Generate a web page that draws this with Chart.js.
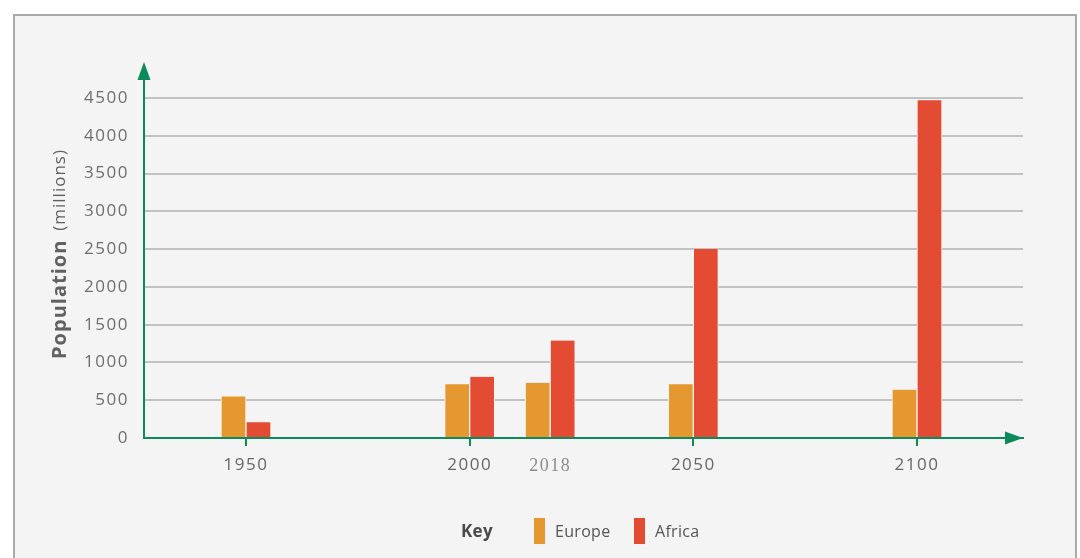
<!DOCTYPE html>
<html>
<head>
<meta charset="utf-8">
<title>Population, Europe and Africa</title>
<script src="https://cdn.jsdelivr.net/npm/chart.js@4"></script>
<style>
  html, body { margin: 0; padding: 0; background: #ffffff; overflow: hidden; }
  #panel {
    position: absolute; left: 13px; top: 14px; width: 1064px; height: 560px;
    background: #f4f4f4; border: 2px solid #a9a9a9; box-sizing: border-box;
  }
  #wrap { position: absolute; left: 0; top: 0; width: 1080px; height: 558px; }
</style>
</head>
<body>
<div id="panel"></div>
<div id="wrap"><canvas id="popChart" width="1080" height="558"></canvas></div>
<script>
// population in millions
const years = [1950, 2000, 2018, 2050, 2100];
const europe = [550, 710, 730, 710, 640];
const africa = [210, 810, 1290, 2500, 4470];
const yTicks = [0, 500, 1000, 1500, 2000, 2500, 3000, 3500, 4000, 4500];
const xTicks = [1950, 2000, 2018, 2050, 2100];
const markedYears = [1950, 2000, 2050, 2100];
const seriesNames = ['Europe', 'Africa'];

const GREEN = '#0b8a5b';
const PANEL = '#f4f4f4';
const colours = ['#e69830', '#e34b33'];

function points(vals) {
    return years.map((yr, i) => ({ x: yr, y: vals[i] }));
}

// axis arrows, year tick marks, rotated axis title and the key
const extras = {
    id: 'extras',
    beforeDraw(chart) {
        chart.ctx.letterSpacing = '1.5px';
    },
    afterDraw(chart) {
        const ctx = chart.ctx;
        const a = chart.chartArea;
        const xs = chart.scales.x;
        ctx.save();
        ctx.fillStyle = GREEN;
        // up arrow
        ctx.beginPath();
        ctx.moveTo(a.left, 62);
        ctx.lineTo(a.left - 6.5, 80);
        ctx.lineTo(a.left + 6.5, 80);
        ctx.closePath();
        ctx.fill();
        // right arrow
        ctx.beginPath();
        ctx.moveTo(a.right, a.bottom);
        ctx.lineTo(a.right - 18, a.bottom - 6.5);
        ctx.lineTo(a.right - 18, a.bottom + 6.5);
        ctx.closePath();
        ctx.fill();
        // small marks under the axis
        markedYears.forEach(yr => {
            const px = Math.round(xs.getPixelForValue(yr));
            ctx.fillRect(px - 1, a.bottom, 2, 8);
        });

        // y title: bold word then regular unit
        ctx.translate(60, 254);
        ctx.rotate(-Math.PI / 2);
        ctx.textBaseline = 'middle';
        ctx.fillStyle = '#616161';
        ctx.letterSpacing = '1px';
        const boldFont = 'bold 20px "Open Sans"';
        const regFont = '17px "Open Sans"';
        ctx.font = boldFont;
        const w1 = ctx.measureText('Population').width;
        ctx.font = regFont;
        const w2 = ctx.measureText('(millions)').width;
        const gap = 9;
        let x0 = -(w1 + gap + w2) / 2;
        ctx.textAlign = 'left';
        ctx.font = boldFont;
        ctx.fillText('Population', x0, 0);
        ctx.font = regFont;
        ctx.fillText('(millions)', x0 + w1 + gap, 0);
        ctx.restore();

        // key
        ctx.save();
        ctx.textBaseline = 'middle';
        ctx.textAlign = 'left';
        ctx.fillStyle = '#4a4a4a';
        ctx.font = 'bold 17px "Open Sans"';
        ctx.letterSpacing = '0.3px';
        ctx.fillText('Key', 461, 532);
        const boxX = [534, 634];
        chart.data.datasets.forEach((ds, i) => {
            ctx.fillStyle = ds.backgroundColor;
            ctx.fillRect(boxX[i], 518, 11, 26);
            ctx.fillStyle = '#555555';
            ctx.font = '16px "Open Sans"';
            ctx.fillText(ds.label, boxX[i] + 21, 532);
        });
        ctx.restore();
    }
};

new Chart(document.getElementById('popChart'), {
    type: 'bar',
    data: {
        datasets: seriesNames.map((name, i) => ({
            label: name,
            data: points(i === 0 ? europe : africa),
            backgroundColor: colours[i],
            borderColor: PANEL,
            borderWidth: { left: 1, right: 1, top: 0, bottom: 0 },
            borderSkipped: false,
            barThickness: 25
        }))
    },
    options: {
        responsive: false,
        animation: false,
        layout: { padding: { left: 0, right: 57, top: 78, bottom: 0 } },
        plugins: { legend: { display: false }, tooltip: { enabled: false } },
        scales: {
            x: {
                type: 'linear',
                min: 1927.2,
                max: 2123.7,
                offset: false,
                afterFit(scale) { scale.height = 120; },
                afterBuildTicks(scale) {
                    scale.ticks = xTicks.map(v => ({ value: v }));
                },
                border: { color: GREEN, width: 2 },
                grid: { display: false, offset: false, drawTicks: false },
                ticks: {
                    padding: 17,
                    maxRotation: 0,
                    autoSkip: false,
                    callback: v => String(v),
                    color: c => (c.tick && c.tick.value === 2018) ? '#8c8c8c' : '#666666',
                    font: c => (c.tick && c.tick.value === 2018)
                        ? { family: '"Liberation Serif", serif', size: 18 }
                        : { family: '"Open Sans"', size: 17 }
                }
            },
            y: {
                min: 0,
                max: 4765,
                afterFit(scale) { scale.width = 144; },
                afterBuildTicks(scale) {
                    scale.ticks = yTicks.map(v => ({ value: v }));
                },
                border: { color: GREEN, width: 2 },
                grid: {
                    color: '#c2c2c2',
                    lineWidth: 2,
                    drawTicks: false
                },
                ticks: {
                    padding: 15,
                    color: '#6e6e6e',
                    callback: v => String(v),
                    font: { family: '"Open Sans"', size: 17 }
                }
            }
        }
    },
    plugins: [extras]
});
</script>
</body>
</html>
